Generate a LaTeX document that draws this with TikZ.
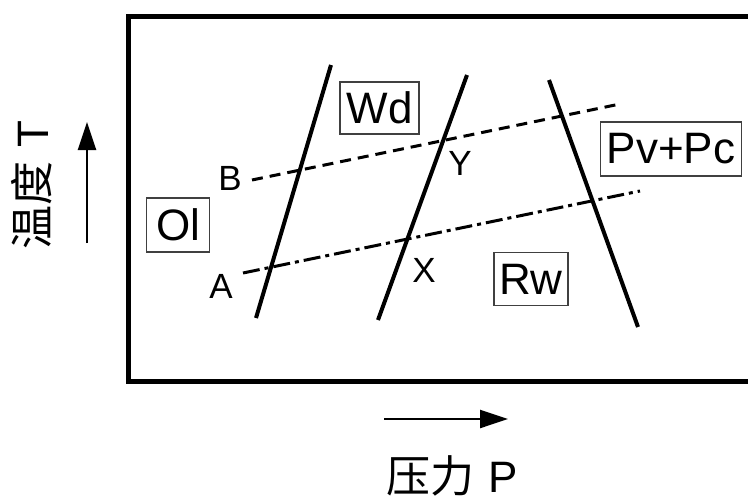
\documentclass[tikz,border=0pt]{standalone}
\usepackage{fontspec}
\setmainfont{Liberation Sans}
\newfontfamily\cjk{Noto Sans CJK SC}
\usetikzlibrary{arrows.meta}
\begin{document}
\begin{tikzpicture}[x=1pt,y=-1pt,
  phase/.style={line width=4pt},
  frameline/.style={line width=5pt},
  boxlabel/.style={draw=black!75,line width=1.3pt,inner sep=0pt,font=\fontsize{44}{44}\selectfont},
  ptlabel/.style={inner sep=0pt,font=\fontsize{35}{35}\selectfont},
  axisarrow/.style={line width=2.4pt,-{Triangle[length=28pt,width=18pt]}}]
\useasboundingbox (0,0) rectangle (748,501);
% frame
\coordinate (f1) at (760,16);
\coordinate (f2) at (128,16);
\coordinate (f3) at (128,381);
\coordinate (f4) at (760,381);
\draw[frameline,line join=miter] (f1) -- (f2) -- (f3) -- (f4);
% phase boundaries
\coordinate (l1t) at (331,65);
\coordinate (l1b) at (256,318);
\coordinate (l2t) at (467,75);
\coordinate (l2b) at (378,320);
\coordinate (l3t) at (549,80);
\coordinate (l3b) at (638,327);
\draw[phase] (l1t) -- (l1b);
\draw[phase] (l2t) -- (l2b);
\draw[phase] (l3t) -- (l3b);
% paths
\coordinate (bs) at (252,180);
\coordinate (be) at (620,104);
\coordinate (as) at (243,273);
\coordinate (ae) at (640,191);
\draw[line width=3pt,dash pattern=on 11pt off 7pt] (bs) -- (be);
\draw[line width=3pt,dash pattern=on 17pt off 5pt on 4pt off 5pt] (as) -- (ae);
% point labels
\node[ptlabel] (B) at (230,178) {B};
\node[ptlabel] (A) at (221,286) {A};
\node[ptlabel] (Y) at (460,163) {Y};
\node[ptlabel] (X) at (424,270) {X};
% phase labels
\node[boxlabel,minimum width=79pt,minimum height=52pt] (Wd) at (379.5,108) {Wd};
\node[boxlabel,minimum width=141pt,minimum height=54pt] (PvPc) at (671,149) {Pv+Pc};
\node[boxlabel,minimum width=63pt,minimum height=54pt] (Ol) at (178,225) {Ol};
\node[boxlabel,minimum width=74pt,minimum height=53pt] (Rw) at (531,279) {Rw};
% axes
\coordinate (ty0) at (87,243);
\coordinate (ty1) at (87,122);
\draw[axisarrow] (ty0) -- (ty1);
\coordinate (px0) at (384,419);
\coordinate (px1) at (508,419);
\draw[axisarrow] (px0) -- (px1);
\node[rotate=90,inner sep=0pt,font=\fontsize{44}{44}\selectfont] (Tlab) at (32,185) {{\cjk 温度}\hspace{14pt}T};
\node[inner sep=0pt,font=\fontsize{44}{44}\selectfont] (Plab) at (452,476) {{\cjk 压力}\hspace{14pt}P};
\end{tikzpicture}
\end{document}
